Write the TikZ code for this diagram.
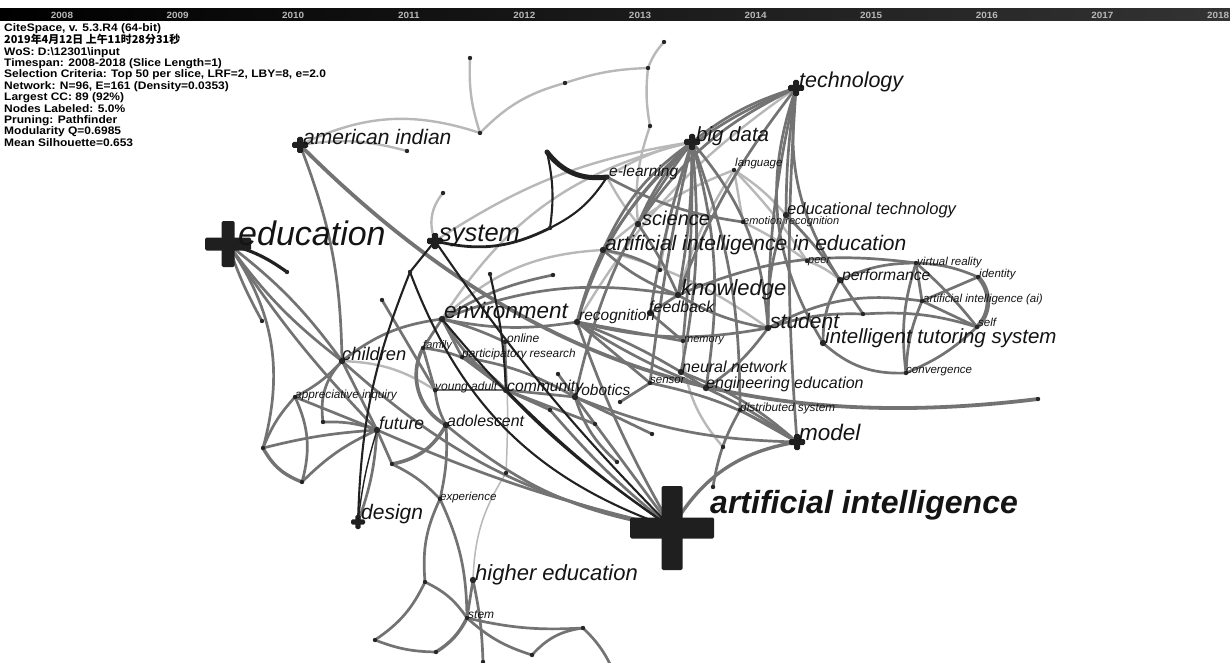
\documentclass[tikz,border=0pt]{standalone}
\usepackage{fontspec}
\setmainfont{Liberation Sans}
\newfontfamily\infofont{Liberation Sans}[FakeStretch=1.1]
\newfontfamily\cjk{Noto Sans CJK SC}
\newcommand{\fsz}[1]{\fontsize{#1}{#1}\selectfont}
\definecolor{edgemid}{gray}{0.45}
\definecolor{edgelite}{gray}{0.72}
\definecolor{edgedark}{gray}{0.13}
\definecolor{crossc}{gray}{0.12}
% plus-shaped marker of a keyword: centre, half length, half width
\newcommand{\kwcross}[3]{%
  \begin{scope}[shift={(#1)}]
    \fill[crossc, rounded corners=1.5pt] (-#2,-#3) rectangle (#2,#3);
    \fill[crossc, rounded corners=1.5pt] (-#3,-#2) rectangle (#3,#2);
  \end{scope}}

\begin{document}
\begin{tikzpicture}[x=1pt, y=1pt, line cap=round,
  lite/.style={draw=edgelite, line width=2.4pt},
  mid/.style={draw=edgemid, line width=2.7pt},
  dark/.style={draw=edgedark, line width=2.1pt},
  kw/.style={anchor=base west, inner sep=0pt, text=black!92, font=\itshape\fsz{#1}},
  yearlab/.style={font=\infofont\bfseries\fsz{9}, text=white!72!black}]
\useasboundingbox (0,0) rectangle (1230,-663);
\fill[white] (0,0) rectangle (1230,-663);

% time bar
\shade[left color=black, right color=black!80] (0,-9) rectangle (1230,-21);
\foreach \yr [count=\i from 0] in {2008,...,2018}
  \node[yearlab] (y\yr) at ({62+115.6*\i},-15) {\yr};

% info block
\node[anchor=north west, align=left, inner sep=0pt,
      font=\infofont\bfseries\fontsize{10.9}{11.4}\selectfont] (info) at (4,-23)
  {CiteSpace, v. 5.3.R4 (64-bit)\\
   {\cjk 2019年4月12日 上午11时28分31秒}\\
   WoS: D:\textbackslash 12301\textbackslash input\\
   Timespan: 2008-2018 (Slice Length=1)\\
   Selection Criteria: Top 50 per slice, LRF=2, LBY=8, e=2.0\\
   Network: N=96, E=161 (Density=0.0353)\\
   Largest CC: 89 (92\%)\\
   Nodes Labeled: 5.0\%\\
   Pruning: Pathfinder\\
   Modularity Q=0.6985\\
   Mean Silhouette=0.653};

% keywords
\coordinate (edu) at (228,-244);
\coordinate (amind) at (300,-145);
\coordinate (system) at (435,-241);
\coordinate (bigdata) at (692,-142);
\coordinate (tech) at (796,-88);
\coordinate (model) at (797,-442);
\coordinate (design) at (358,-522);
\coordinate (ai) at (672,-528);
\coordinate (elearn) at (607,-177);
\coordinate (science) at (638,-224);
\coordinate (aied) at (603,-250);
\coordinate (edtech) at (786,-215);
\coordinate (emotion) at (743,-222);
\coordinate (language) at (734,-170);
\coordinate (peer) at (807,-261);
\coordinate (perf) at (840,-280);
\coordinate (vr) at (916,-263);
\coordinate (ident) at (978,-277);
\coordinate (aiai) at (922,-301);
\coordinate (self) at (977,-327);
\coordinate (student) at (768,-328);
\coordinate (its) at (823,-343);
\coordinate (conv) at (906,-373);
\coordinate (know) at (678,-295);
\coordinate (feedb) at (650,-313);
\coordinate (memory) at (683,-341);
\coordinate (recog) at (577,-322);
\coordinate (env) at (442,-319);
\coordinate (online) at (505,-342);
\coordinate (family) at (423,-348);
\coordinate (partres) at (462,-357);
\coordinate (children) at (342,-361);
\coordinate (apprinq) at (295,-397);
\coordinate (youngad) at (435,-390);
\coordinate (commun) at (506,-390);
\coordinate (robot) at (575,-397);
\coordinate (future) at (377,-430);
\coordinate (adoles) at (446,-425);
\coordinate (sensor) at (650,-383);
\coordinate (neural) at (681,-372);
\coordinate (engedu) at (706,-388);
\coordinate (distsys) at (740,-410);
\coordinate (exper) at (440,-499);
\coordinate (highedu) at (473,-580);
\coordinate (stem) at (467,-618);

% unlabelled nodes
\coordinate (p1) at (470,-58);
\coordinate (p2) at (480,-133);
\coordinate (p3) at (565,-83);
\coordinate (p4) at (648,-68);
\coordinate (p5) at (664,-42);
\coordinate (p6) at (650,-126);
\coordinate (p7) at (407,-151);
\coordinate (p8) at (443,-193);
\coordinate (p9) at (547,-152);
\coordinate (p10) at (550,-228);
\coordinate (p11) at (410,-272);
\coordinate (p12) at (287,-272);
\coordinate (p13) at (262,-321);
\coordinate (p14) at (263,-448);
\coordinate (p15) at (302,-482);
\coordinate (p16) at (323,-422);
\coordinate (p17) at (382,-300);
\coordinate (p19) at (713,-487);
\coordinate (p20) at (863,-314);
\coordinate (p21) at (392,-464);
\coordinate (p22) at (425,-582);
\coordinate (p23) at (375,-640);
\coordinate (p24) at (436,-652);
\coordinate (p25) at (583,-628);
\coordinate (p26) at (532,-655);
\coordinate (p27) at (483,-662);
\coordinate (p28) at (506,-473);
\coordinate (p29) at (612,-668);
\coordinate (p30) at (558,-374);
\coordinate (p31) at (550,-410);
\coordinate (p32) at (595,-424);
\coordinate (p33) at (652,-434);
\coordinate (p34) at (617,-462);
\coordinate (p35) at (723,-447);
\coordinate (p36) at (620,-402);
\coordinate (p37) at (553,-275);
\coordinate (p38) at (660,-270);
\coordinate (p39) at (490,-274);
\coordinate (pend) at (1038,-399);

% light links
\draw[lite] (amind) to[bend left=22] (p2);
\draw[lite] (amind) to[bend left=12] (p7);
\draw[lite] (p1) to[bend right=10] (p2);
\draw[lite] (p2) to[bend left=15] (p3);
\draw[lite] (p3) to[bend left=8] (p4);
\draw[lite] (p4) to[bend left=10] (p5);
\draw[lite] (p4) to[bend right=8] (p6);
\draw[lite] (p6) to[bend right=12] (science);
\draw[lite] (p8) to[bend right=30] (system);
\draw[lite] (system) to[bend left=12] (bigdata);
\draw[lite] (bigdata) to[bend right=10] (elearn);
\draw[lite] (bigdata) to[bend right=22] (env);
\draw[lite] (bigdata) to[bend right=5] (p38);
\draw[lite] (language) to[bend left=8] (edtech);
\draw[lite] (language) to (emotion);
\draw[lite] (language) to[bend right=10] (aied);
\draw[lite] (language) to[bend left=5] (peer);
\draw[lite] (language) to[bend right=8] (know);
\draw[lite] (emotion) to[bend left=5] (peer);
\draw[lite] (elearn) to[bend right=5] (science);
\draw[lite] (peer) to[bend left=10] (perf);
\draw[lite] (aied) to[bend left=10] (student);
\draw[lite] (env) to[bend left=20] (aied);
\draw[lite] (children) to[bend left=15] (youngad);
\draw[lite] (p35) to[bend left=20] (memory);
\draw[lite] (tech) to[bend right=12] (recog);
\draw[lite, line width=1.5pt] (online) to[bend left=3] (p28);
\draw[lite, line width=1.5pt] (p28) to[bend right=15] (highedu);

% grey links
\draw[mid] (tech) to[bend right=10] (bigdata);
\draw[mid] (tech) to[bend right=15] (science);
\draw[mid] (tech) to[bend right=18] (aied);
\draw[mid] (tech) to[bend right=8] (know);
\draw[mid] (tech) to[bend right=4] (edtech);
\draw[mid] (tech) to[bend right=20] (perf);
\draw[mid] (tech) to[bend right=6] (student);
\draw[mid] (tech) to[bend right=4] (model);
\draw[mid] (tech) to[bend right=25] (its);
\draw[mid] (bigdata) to[bend right=10] (science);
\draw[mid] (bigdata) to[bend right=15] (aied);
\draw[mid] (bigdata) to[bend left=5] (know);
\draw[mid] (bigdata) to[bend right=4] (feedb);
\draw[mid] (bigdata) to[bend right=15] (recog);
\draw[mid] (bigdata) to[bend left=3] (memory);
\draw[mid] (bigdata) to[bend left=8] (neural);
\draw[mid] (bigdata) to[bend right=3] (sensor);
\draw[mid] (bigdata) to[bend right=12] (robot);
\draw[mid] (bigdata) to[bend left=18] (student);
\draw[mid] (bigdata) to[bend left=10] (distsys);
\draw[mid] (bigdata) to[bend left=12] (engedu);
\draw[mid] (elearn) to[bend right=10] (emotion);
\draw[mid] (science) to[bend left=5] (know);
\draw[mid] (aied) to[bend right=10] (know);
\draw[mid] (aied) to[bend right=5] (recog);
\draw[mid] (aied) to[bend left=10] (p38);
\draw[mid] (know) to[bend right=10] (student);
\draw[mid] (know) to (feedb);
\draw[mid] (know) to[bend left=15] (vr);
\draw[mid] (feedb) to (memory);
\draw[mid] (recog) to (memory);
\draw[mid] (recog) to[bend right=12] (student);
\draw[mid] (recog) to[bend left=5] (neural);
\draw[mid] (recog) to[bend right=5] (engedu);
\draw[mid] (recog) to (sensor);
\draw[mid] (edtech) to[bend left=5] (perf);
\draw[mid] (edtech) to[bend right=10] (student);
\draw[mid] (perf) to[bend left=12] (vr);
\draw[mid] (perf) to[bend right=15] (its);
\draw[mid] (perf) to (p20);
\draw[mid] (student) to[bend left=10] (p20);
\draw[mid] (p20) to[bend left=10] (self);
\draw[mid] (student) to[bend left=18] (aiai);
\draw[mid] (student) to[bend left=10] (engedu);
\draw[mid] (vr) to[bend left=10] (ident);
\draw[mid] (vr) to (aiai);
\draw[mid] (vr) to[bend right=12] (conv);
\draw[mid] (vr) to[bend left=5] (self);
\draw[mid, line width=4.5pt] (ident) to[bend left=45] (self);
\draw[mid] (ident) to (aiai);
\draw[mid] (aiai) to (self);
\draw[mid] (aiai) to[bend right=10] (conv);
\draw[mid] (its) to[bend right=22] (conv);
\draw[mid] (conv) to[bend right=10] (self);
\draw[mid] (neural) to (engedu);
\draw[mid] (neural) to[bend left=10] (model);
\draw[mid] (sensor) to[bend left=10] (model);
\draw[mid] (engedu) to[bend left=5] (model);
\draw[mid] (distsys) to (model);
\draw[mid] (robot) to[bend right=10] (model);
\draw[mid] (robot) to (p33);
\draw[mid] (robot) to[bend right=15] (p34);
\draw[mid] (p30) to (robot);
\draw[mid] (p36) to (sensor);
\draw[mid] (p19) to[bend left=10] (distsys);
\draw[mid, line width=3.4pt] (ai) to[bend left=25] (model);
\draw[mid, line width=3.8pt] (amind) to[bend right=26] (pend);
\draw[mid] (amind) to[bend left=10] (children);
\draw[mid] (env) to[bend right=10] (recog);
\draw[mid] (env) to[bend left=15] (know);
\draw[mid] (env) to[bend left=10] (p37);
\draw[mid] (env) to (family);
\draw[mid] (env) to[bend left=5] (online);
\draw[mid] (env) to (partres);
\draw[mid] (env) to[bend right=10] (commun);
\draw[mid] (family) to[bend left=20] (commun);
\draw[mid, line width=3.6pt] (family) to[bend right=45] (adoles);
\draw[mid] (family) to (youngad);
\draw[mid] (youngad) to (commun);
\draw[mid] (youngad) to[bend right=10] (adoles);
\draw[mid] (partres) to (commun);
\draw[mid] (partres) to[bend left=10] (robot);
\draw[mid] (online) to (commun);
\draw[mid] (commun) to (robot);
\draw[mid] (commun) to (p32);
\draw[mid] (p31) to (commun);
\draw[mid] (p31) to[bend right=5] (ai);
\draw[mid] (adoles) to[bend right=15] (ai);
\draw[mid] (adoles) to[bend left=8] (exper);
\draw[mid, line width=3.6pt] (p21) to[bend right=25] (adoles);
\draw[mid] (future) to[bend right=5] (ai);
\draw[mid] (future) to[bend left=8] (design);
\draw[mid] (future) to (p21);
\draw[mid] (p21) to[bend left=10] (exper);
\draw[mid] (children) to (future);
\draw[mid] (children) to[bend right=15] (ai);
\draw[mid] (children) to[bend right=25] (p16);
\draw[mid] (children) to[bend left=10] (apprinq);
\draw[mid] (children) to[bend left=15] (env);
\draw[mid] (edu) to[bend left=8] (children);
\draw[mid] (edu) to[bend right=8] (children);
\draw[mid] (edu) to[bend right=5] (p13);
\draw[mid] (edu) to[bend left=25] (p14);
\draw[mid] (edu) to[bend right=5] (future);
\draw[mid, line width=3.4pt] (p14) to[bend right=20] (p15);
\draw[mid] (p14) to[bend left=5] (future);
\draw[mid] (p15) to[bend left=10] (future);
\draw[mid] (p14) to[bend left=10] (apprinq);
\draw[mid] (p15) to[bend right=20] (apprinq);
\draw[mid] (apprinq) to (future);
\draw[mid] (p16) to[bend left=10] (future);
\draw[mid] (p17) to (youngad);
\draw[mid] (recog) to[bend right=5] (ai);
\draw[mid] (robot) to (ai);
\draw[mid] (exper) to[bend left=12] (stem);
\draw[mid] (exper) to[bend right=15] (p22);
\draw[mid] (p22) to[bend left=15] (stem);
\draw[mid] (p22) to[bend left=15] (p23);
\draw[mid] (p23) to[bend right=10] (p24);
\draw[mid, line width=3.4pt] (p24) to[bend right=15] (stem);
\draw[mid] (stem) to[bend right=12] (p26);
\draw[mid] (stem) to[bend right=8] (p25);
\draw[mid] (p26) to[bend left=20] (p25);
\draw[mid] (p25) to[bend left=10] (p29);
\draw[mid] (highedu) to[bend left=5] (p27);
\draw[mid] (highedu) to (stem);

% dark links
\draw[dark, line width=5pt] (p9) to[bend right=30] (elearn);
\draw[dark] (p9) to[bend left=10] (p10);
\draw[dark] (elearn) to[bend left=15] (p10);
\draw[dark, line width=2.8pt] (system) to[bend right=20] (p10);
\draw[dark] (system) to (p11);
\draw[dark] (p11) to[bend right=10] (design);
\draw[dark] (p11) to[bend right=25] (ai);
\draw[dark] (system) to[bend right=5] (ai);
\draw[dark] (env) to[bend right=8] (ai);
\draw[dark] (commun) to[bend right=5] (ai);
\draw[dark] (p39) to[bend left=5] (commun);
\draw[dark, line width=1.4pt] (future) to[bend right=5] (design);
\draw[dark, line width=3.2pt] (edu) to[bend left=10] (p12);

% markers
\foreach \q in {p1,p2,p3,p4,p5,p6,p7,p8,p9,p10,p11,p12,p13,p14,p15,p16,p17,p19,p20,p21,p22,p23,p24,p25,p26,p27,p28,p30,p31,p32,p33,p34,p35,p36,p37,p38,p39,pend,
  elearn,emotion,language,peer,vr,ident,aiai,self,conv,memory,online,family,partres,apprinq,youngad,sensor,distsys,exper,stem}
  \fill[black!85] (\q) circle (2.2);
\foreach \q in {science,aied,edtech,perf,student,its,know,feedb,recog,env,children,commun,robot,future,adoles,neural,engedu,highedu}
  \fill[black!85] (\q) circle (3.2);
\kwcross{edu}{23}{6.5}
\kwcross{ai}{42}{10.5}
\kwcross{amind}{8}{3}
\kwcross{system}{8}{3.2}
\kwcross{bigdata}{8}{3}
\kwcross{tech}{8}{3}
\kwcross{model}{8}{3}
\kwcross{design}{7}{2.6}

% labels
\node[kw=34] (t-edu) at (238,-245) {education};
\node[kw=21] (t-amind) at (303,-145) {american indian};
\node[kw=25.5] (t-system) at (439,-241) {system};
\node[kw=20.5] (t-bigdata) at (696,-142) {big data};
\node[kw=21.5] (t-tech) at (799,-88) {technology};
\node[kw=15.5] (t-elearn) at (609,-177) {e-learning};
\node[kw=20] (t-science) at (642,-225) {science};
\node[kw=21] (t-aied) at (605,-250) {artificial intelligence in education};
\node[kw=16.5] (t-edtech) at (787,-214) {educational technology};
\node[kw=11] (t-emotion) at (743,-224) {emotion recognition};
\node[kw=11.5] (t-language) at (735,-167) {language};
\node[kw=11] (t-peer) at (808,-263) {peer};
\node[kw=15.7] (t-perf) at (842,-280) {performance};
\node[kw=11.5] (t-vr) at (917,-265) {virtual reality};
\node[kw=11.5] (t-ident) at (979,-277) {identity};
\node[kw=11.5] (t-aiai) at (923,-302) {artificial intelligence (ai)};
\node[kw=11.5] (t-self) at (978,-326) {self};
\node[kw=21] (t-student) at (770,-328) {student};
\node[kw=20.5] (t-its) at (825,-343) {intelligent tutoring system};
\node[kw=11.5] (t-conv) at (906,-373) {convergence};
\node[kw=22] (t-know) at (681,-295) {knowledge};
\node[kw=16] (t-feedb) at (649,-312) {feedback};
\node[kw=11] (t-memory) at (684,-342) {memory};
\node[kw=15.5] (t-recog) at (579,-320) {recognition};
\node[kw=22.5] (t-env) at (444,-318) {environment};
\node[kw=12] (t-online) at (507,-342) {online};
\node[kw=11] (t-family) at (423,-348) {family};
\node[kw=11.8] (t-partres) at (462,-357) {participatory research};
\node[kw=18.3] (t-children) at (342,-360) {children};
\node[kw=11.8] (t-apprinq) at (295,-398) {appreciative inquiry};
\node[kw=12] (t-youngad) at (435,-390) {young adult};
\node[kw=15.7] (t-commun) at (507,-391) {community};
\node[kw=15.5] (t-robot) at (576,-395) {robotics};
\node[kw=17.6] (t-future) at (379,-429) {future};
\node[kw=15.9] (t-adoles) at (447,-426) {adolescent};
\node[kw=11.5] (t-sensor) at (650,-383) {sensor};
\node[kw=16] (t-neural) at (682,-372) {neural network};
\node[kw=16] (t-engedu) at (706,-388) {engineering education};
\node[kw=11.8] (t-distsys) at (740,-411) {distributed system};
\node[kw=22.5] (t-model) at (799,-440) {model};
\node[kw=21] (t-design) at (361,-519) {design};
\node[kw=11.5] (t-exper) at (440,-500) {experience};
\node[kw=22] (t-highedu) at (475,-580) {higher education};
\node[kw=12] (t-stem) at (468,-618) {stem};
\node[kw=32, font=\bfseries\itshape\fsz{32}] (t-ai) at (710,-513) {artificial intelligence};
\end{tikzpicture}
\end{document}
